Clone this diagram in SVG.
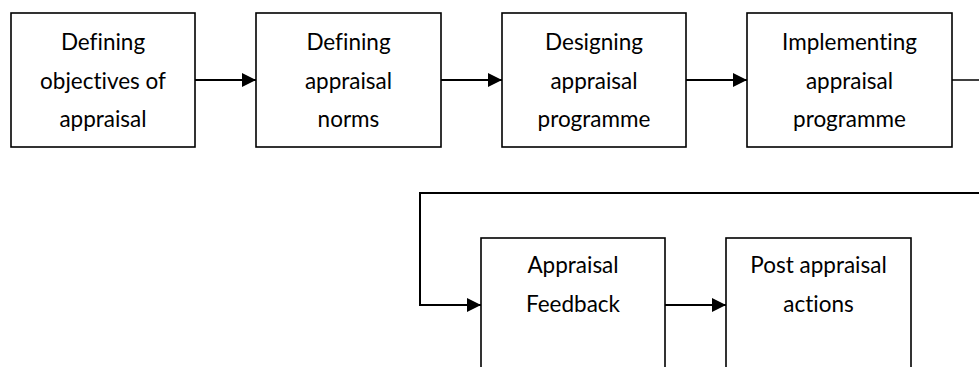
<svg xmlns="http://www.w3.org/2000/svg" width="979" height="367" viewBox="0 0 979 367">
<style>
.box{fill:#fff;stroke:#000;stroke-width:1.6}
.lbl{font-family:Lato,"Open Sans",sans-serif;font-size:22.5px;fill:#000;text-anchor:middle;font-variant-ligatures:none}
.con{fill:none;stroke:#000;stroke-width:2}
</style>
<defs>
<marker id="ah" markerWidth="14" markerHeight="14" refX="14" refY="7" orient="auto" markerUnits="userSpaceOnUse">
<path d="M0,0 L14,7 L0,14 Z" fill="#000"/>
</marker>
</defs>
<g id="n1"><rect class="box" x="11" y="13" width="184" height="134"/>
<text class="lbl" x="103" y="50">Defining</text><text class="lbl" x="103" y="88.5">objectives of</text><text class="lbl" x="103" y="127">appraisal</text></g>
<g id="n2"><rect class="box" x="256" y="13" width="185" height="134"/>
<text class="lbl" x="348.5" y="50">Defining</text><text class="lbl" x="348.5" y="88.5">appraisal</text><text class="lbl" x="348.5" y="127">norms</text></g>
<g id="n3"><rect class="box" x="502" y="13" width="184" height="134"/>
<text class="lbl" x="594" y="50">Designing</text><text class="lbl" x="594" y="88.5">appraisal</text><text class="lbl" x="594" y="127">programme</text></g>
<g id="n4"><rect class="box" x="747" y="13" width="205" height="134"/>
<text class="lbl" x="849.5" y="50">Implementing</text><text class="lbl" x="849.5" y="88.5">appraisal</text><text class="lbl" x="849.5" y="127">programme</text></g>
<g id="n5"><rect class="box" x="481" y="238" width="184" height="140"/>
<text class="lbl" x="573" y="273">Appraisal</text><text class="lbl" x="573" y="312">Feedback</text></g>
<g id="n6"><rect class="box" x="726" y="238" width="185" height="140"/>
<text class="lbl" x="818.5" y="273">Post appraisal</text><text class="lbl" x="818.5" y="312">actions</text></g>
<g id="connectors">
<line class="con" x1="195" y1="80" x2="256" y2="80" marker-end="url(#ah)"/>
<line class="con" x1="441" y1="80" x2="502" y2="80" marker-end="url(#ah)"/>
<line class="con" x1="686" y1="80" x2="747" y2="80" marker-end="url(#ah)"/>
<line class="con" x1="952" y1="80" x2="980" y2="80" style="stroke-width:1.5"/>
<polyline class="con" points="980,193 420,193 420,305 481,305" marker-end="url(#ah)"/>
<line class="con" x1="665" y1="305" x2="726" y2="305" marker-end="url(#ah)"/>
</g>
</svg>
